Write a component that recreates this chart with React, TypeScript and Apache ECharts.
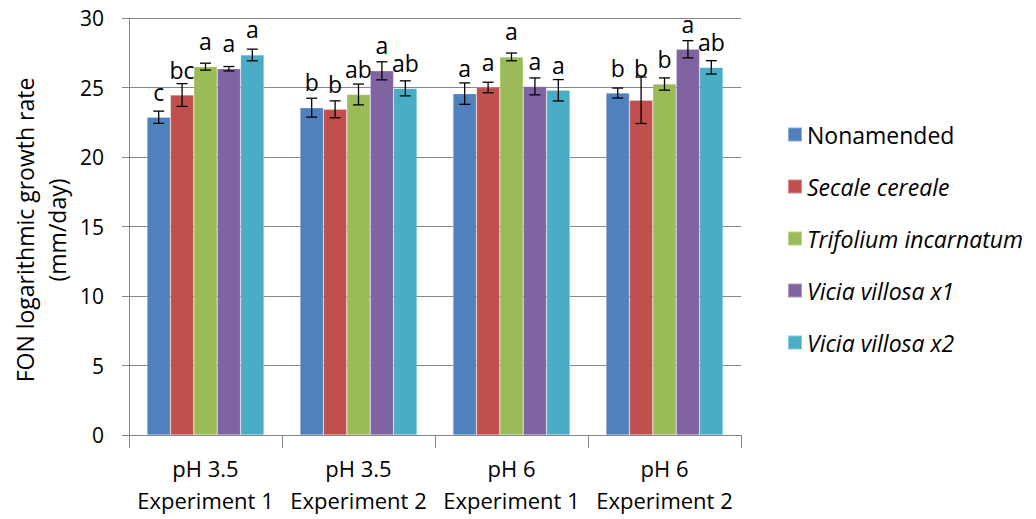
import React, { useEffect, useRef } from 'react';
import * as echarts from 'echarts';

const categories = ['pH 3.5\nExperiment 1', 'pH 3.5\nExperiment 2', 'pH 6\nExperiment 1', 'pH 6\nExperiment 2'];
const seriesNames = ['Nonamended', 'Secale cereale', 'Trifolium incarnatum', 'Vicia villosa x1', 'Vicia villosa x2'];
const italicNames = [false, true, true, true, true];
const colors = ['#4F81BD', '#C0504D', '#9BBB59', '#8064A2', '#4BACC6'];

const nonamended = [22.86, 23.55, 24.56, 24.6];
const secaleCereale = [24.46, 23.43, 25.0, 24.08];
const trifoliumIncarnatum = [26.5, 24.5, 27.2, 25.25];
const viciaVillosaX1 = [26.35, 26.2, 25.08, 27.75];
const viciaVillosaX2 = [27.34, 24.94, 24.8, 26.45];

const errNonamended = [0.44, 0.68, 0.77, 0.36];
const errSecaleCereale = [0.82, 0.61, 0.38, 1.67];
const errTrifoliumIncarnatum = [0.25, 0.75, 0.28, 0.44];
const errViciaVillosaX1 = [0.16, 0.65, 0.61, 0.62];
const errViciaVillosaX2 = [0.42, 0.54, 0.77, 0.48];

const lettersNonamended = ['c', 'b', 'a', 'b'];
const lettersSecaleCereale = ['bc', 'b', 'a', 'b'];
const lettersTrifoliumIncarnatum = ['a', 'ab', 'a', 'b'];
const lettersViciaVillosaX1 = ['a', 'a', 'a', 'a'];
const lettersViciaVillosaX2 = ['a', 'ab', 'a', 'ab'];

const yTicks = { min: 0, max: 30, interval: 5 };

const values = [nonamended, secaleCereale, trifoliumIncarnatum, viciaVillosaX1, viciaVillosaX2];
const errors = [errNonamended, errSecaleCereale, errTrifoliumIncarnatum, errViciaVillosaX1, errViciaVillosaX2];
const letters = [lettersNonamended, lettersSecaleCereale, lettersTrifoliumIncarnatum, lettersViciaVillosaX1, lettersViciaVillosaX2];

const FONT = '"Open Sans", Lato, sans-serif';
const CAT_GAP = 0.235;

export default function App() {
  const ref = useRef<HTMLDivElement>(null);
  useEffect(() => {
    if (!ref.current) return;
    const chart = echarts.init(ref.current, undefined, { renderer: 'svg' });

    const barSeries = seriesNames.map((name, s) => ({
      name,
      type: 'bar',
      barGap: '0%',
      barCategoryGap: CAT_GAP * 100 + '%',
      itemStyle: { color: colors[s], borderColor: 'rgba(255,255,255,0.35)', borderWidth: 0.6 },
      label: {
        show: true,
        position: 'top',
        distance: 14,
        fontFamily: FONT,
        fontSize: 23,
        lineHeight: 23,
        color: '#000',
        formatter: (p: any) => letters[s][p.dataIndex],
      },
      data: values[s].map((v, i) =>
        s === 1 && i === 3 ? { value: v, label: { distance: 21 } } : v
      ),
      z: 2,
    }));

    const errData: any[] = [];
    values.forEach((arr, s) => arr.forEach((v, i) => errData.push([i, v, errors[s][i], s])));

    const errSeries = {
      type: 'custom',
      name: 'err',
      z: 5,
      silent: true,
      renderItem: (params: any, api: any) => {
        const cat = api.value(0);
        const v = api.value(1);
        const e = api.value(2);
        const s = api.value(3);
        const center = api.coord([cat, 0])[0];
        const band = api.size([1, 0])[0];
        const bw = (band * (1 - CAT_GAP)) / 5;
        const x = center - 2.5 * bw + (s + 0.5) * bw;
        const yTop = api.coord([cat, v + e])[1];
        const yBot = api.coord([cat, v - e])[1];
        const cap = 5.5;
        const style = { stroke: '#000', lineWidth: 1.3 };
        return {
          type: 'group',
          children: [
            { type: 'line', shape: { x1: x, y1: yTop, x2: x, y2: yBot }, style },
            { type: 'line', shape: { x1: x - cap, y1: yTop, x2: x + cap, y2: yTop }, style },
            { type: 'line', shape: { x1: x - cap, y1: yBot, x2: x + cap, y2: yBot }, style },
          ],
        };
      },
      data: errData,
    };

    chart.setOption({
      animation: false,
      textStyle: { fontFamily: FONT },
      grid: { left: 129, top: 18, width: 612, height: 417, containLabel: false },
      legend: {
        orient: 'vertical',
        left: 782,
        top: 118,
        itemWidth: 14,
        itemHeight: 14,
        itemGap: 29,
        icon: 'rect',
        data: seriesNames,
        textStyle: {
          fontFamily: FONT,
          fontSize: 23,
          color: '#000',
          rich: {
            n: { fontFamily: FONT, fontSize: 23, color: '#000' },
            i: { fontFamily: FONT, fontSize: 23, color: '#000', fontStyle: 'italic' },
          },
        },
        formatter: (name: string) => {
          const idx = seriesNames.indexOf(name);
          return italicNames[idx] ? '{i|' + name + '}' : '{n|' + name + '}';
        },
      },
      xAxis: {
        type: 'category',
        data: categories,
        axisLine: { lineStyle: { color: '#868686', width: 1 } },
        axisTick: { show: true, length: 13, lineStyle: { color: '#868686' } },
        axisLabel: {
          fontFamily: FONT,
          fontSize: 22,
          color: '#000',
          lineHeight: 32,
          margin: 17,
          interval: 0,
        },
      },
      yAxis: {
        type: 'value',
        min: yTicks.min,
        max: yTicks.max,
        interval: yTicks.interval,
        axisLine: { show: true, lineStyle: { color: '#868686', width: 1 } },
        axisTick: { show: true, length: 7, lineStyle: { color: '#868686' } },
        splitLine: { show: true, lineStyle: { color: '#868686', width: 1 } },
        axisLabel: { fontFamily: FONT, fontSize: 21, color: '#000', margin: 25 },
      },
      graphic: [
        {
          type: 'text',
          x: 41,
          y: 230,
          rotation: Math.PI / 2,
          style: {
            text: 'FON logarithmic growth rate\n(mm/day)',
            fontFamily: FONT,
            fontSize: 23,
            lineHeight: 32,
            fill: '#000',
            align: 'center',
            verticalAlign: 'middle',
          },
        },
      ],
      series: [...barSeries, errSeries],
    });
    return () => chart.dispose();
  }, []);
  return (
    <div
      ref={ref}
      style={{ position: 'absolute', left: 0, top: 0, width: 1036, height: 519, background: '#fff' }}
    />
  );
}
